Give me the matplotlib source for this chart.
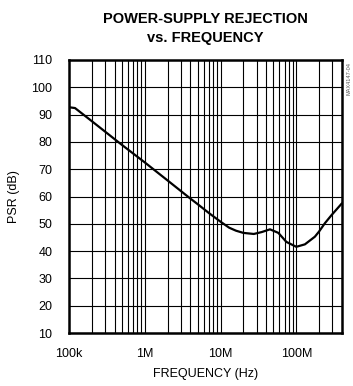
import numpy as np
import matplotlib
matplotlib.use('Agg')
import matplotlib.pyplot as plt
from matplotlib.ticker import LogLocator, NullFormatter

# curve (Hz, dB)
freq = [1.0e5, 1.2e5, 2e5, 5e5, 1e6, 2e6, 3.9e6, 5e6, 7e6, 1e7, 1.3e7, 1.6e7,
        2e7, 2.75e7, 3.5e7, 4.5e7, 5.8e7, 7.4e7, 1e8, 1.3e8, 1.76e8, 2e8,
        2.38e8, 2.92e8, 4e8]
psr = [92.7, 92.4, 87.6, 78.9, 72.5, 65.9, 59.5, 57.2, 54.0, 50.8, 48.6, 47.5,
       46.7, 46.3, 47.0, 48.0, 46.7, 43.4, 41.6, 42.5, 45.3, 47.2,
       50.2, 53.2, 57.5]

xticks = [1e5, 1e6, 1e7, 1e8]
xlabels = ['100k', '1M', '10M', '100M']
yticks = list(range(10, 111, 10))

plt.rcParams['font.family'] = ['Liberation Sans', 'DejaVu Sans']

fig = plt.figure(figsize=(3.53, 3.86), dpi=100)
ax = fig.add_axes([0.1955, 0.137, 0.773, 0.7076])

ax.plot(freq, psr, color='black', linewidth=1.6, solid_capstyle='round', solid_joinstyle='round')

ax.set_xscale('log')
ax.set_xlim(1e5, 4e8)
ax.set_ylim(10, 110)
ax.set_xticks(xticks)
ax.set_xticklabels(xlabels)
ax.xaxis.set_minor_locator(LogLocator(base=10, subs=np.arange(2, 10)))
ax.xaxis.set_minor_formatter(NullFormatter())
ax.set_yticks(yticks)

ax.grid(True, which='both', axis='x', color='black', linewidth=0.8)
ax.grid(True, which='major', axis='y', color='black', linewidth=0.8)
ax.tick_params(which='both', length=0, labelsize=9)
ax.tick_params(axis='x', pad=10.5)
ax.tick_params(axis='y', pad=12)

for s in ax.spines.values():
    s.set_linewidth(1.8)

ax.set_xlabel('FREQUENCY (Hz)', fontsize=9, labelpad=6)
ax.set_ylabel('PSR (dB)', fontsize=9, labelpad=8)

fig.text(205 / 353, 1 - 28.5 / 386, 'POWER-SUPPLY REJECTION\nvs. FREQUENCY', ha='center', va='center',
         fontsize=10.5, fontweight='bold', linespacing=1.45)
fig.text(0.997, 0.84, 'MAX4147-04', rotation=90, ha='right', va='top',
         fontsize=4, color='#555555')

fig.savefig('out.png', dpi=100)
